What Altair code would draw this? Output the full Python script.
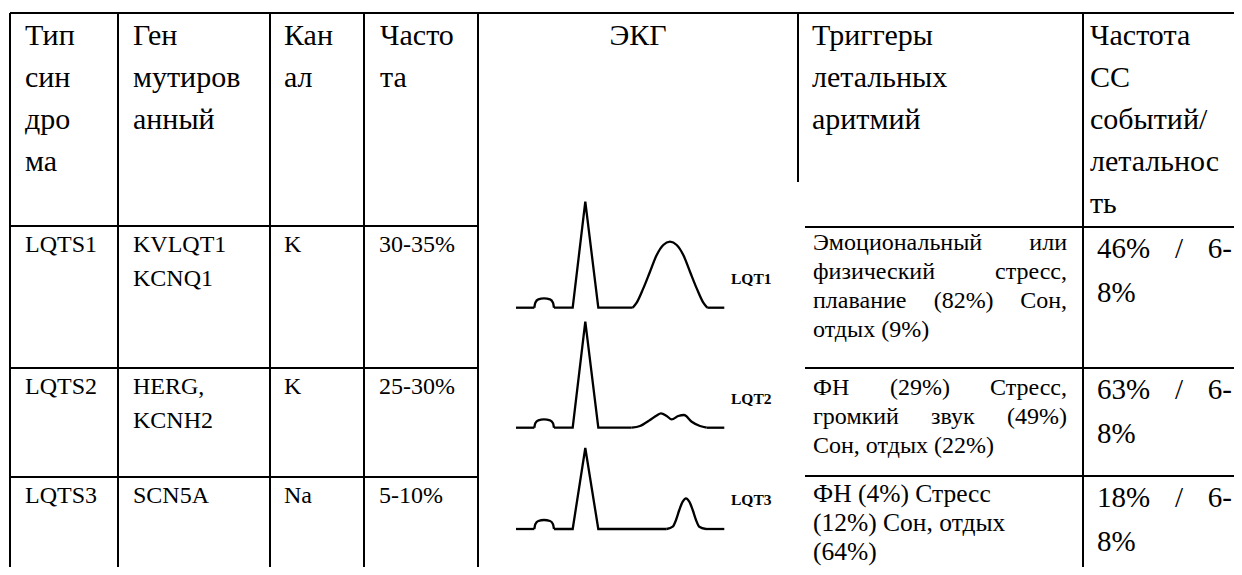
import altair as alt
import pandas as pd

# ---------------- table content ----------------
HEADERS = [
    ["Тип", "син", "дро", "ма"],
    ["Ген", "мутиров", "анный"],
    ["Кан", "ал"],
    ["Часто", "та"],
    ["ЭКГ"],
    ["Триггеры", "летальных", "аритмий"],
    ["Частота", "СС", "событий/", "летальнос", "ть"],
]
SYNDROME = ["LQTS1", "LQTS2", "LQTS3"]
GENE = [["KVLQT1", "KCNQ1"], ["HERG,", "KCNH2"], ["SCN5A"]]
CHANNEL = ["K", "K", "Na"]
FREQ = ["30-35%", "25-30%", "5-10%"]
TRIGGERS = [
    ["Эмоциональный или", "физический стресс,", "плавание (82%) Сон,", "отдых (9%)"],
    ["ФН (29%) Стресс,", "громкий звук (49%)", "Сон, отдых (22%)"],
    ["ФН (4%) Стресс", "(12%) Сон, отдых", "(64%)"],
]
TRIG_JUSTIFY = [[True, True, True, False], [True, True, False], [False, False, False]]
EVENTS = [["46% / 6-", "8%"], ["63% / 6-", "8%"], ["18% / 6-", "8%"]]
EVENTS_JUSTIFY = [True, False]
ECG_NAMES = ["LQT1", "LQT2", "LQT3"]

# ---------------- ECG traces (t along trace, amp above isoelectric line) ----------------
TRACE_END = 208.3
P_T = [18.3, 19.3, 22.3, 28.0, 34.0, 37.0, 38.0]
P_AMP = [
    [0, 5.0, 8.3, 9.3, 8.3, 5.0, 0],
    [0, 4.5, 7.4, 8.3, 7.4, 4.5, 0],
    [0, 4.8, 8.0, 9.0, 8.0, 4.8, 0],
]
QRS_T = [56.7, 69.3, 82.3]          # Q onset, R peak, S end
R_AMP = [106.0, 106.0, 81.0]
TW_T = [
    [116.7, 120.7, 127.3, 134.0, 140.7, 147.3, 154.0, 160.7, 167.3, 174.0, 180.7, 187.3, 191.3],
    [115.7, 124.0, 134.0, 140.7, 145.0, 150.7, 155.7, 162.3, 168.0, 175.7, 184.0, 190.7],
    [150.7, 156.7, 160.0, 163.3, 166.7, 170.0, 173.3, 176.7, 180.0, 183.3, 190.0],
]
TW_AMP = [
    [0, 5.0, 19.3, 36.0, 52.7, 62.7, 66.0, 62.7, 52.7, 36.0, 19.3, 5.0, 0],
    [0, 1.7, 7.7, 12.3, 14.3, 11.7, 8.3, 11.7, 12.7, 6.0, 1.7, 0],
    [0, 2.3, 9.0, 19.0, 27.3, 30.7, 27.3, 19.0, 9.0, 2.3, 0],
]

# ---------------- layout (image pixel frame) ----------------
IMG_W, IMG_H, MARGIN = 1242, 575, 8
W, H = IMG_W - 2 * MARGIN, IMG_H - 2 * MARGIN
COL_LEFT = [10, 118, 270, 364, 478, 798, 1083]
TOP, BOTTOM = 13, 600
ECG_HEAD_BOTTOM = 182
LEFT_ROWS = [226, 368, 477]
RIGHT_ROWS = [227, 368, 476]
RIGHT_X0, RIGHT_X1 = 805, 1300
HEAD_PAD = [15, 15, 14, 16, 0, 14, 7]
HEAD_BASE, HEAD_STEP, HEAD_SIZE = 45, 42, 30
BODY_SIZE, BODY_STEP = 24, 34
TRIG_L, TRIG_R, TRIG_STEP = 813, 1067, 29
TRIG_SIZE = [24, 24, 25.5]
TRIG_OFF = [23, 27, 26]
EV_L, EV_R, EV_SIZE, EV_STEP = 1097, 1232, 29, 44
ECG_X0 = 516
ECG_BASE = [307.7, 427.7, 529.0]
ECG_LABEL_X, ECG_LABEL_SIZE = 731, 15.5
SERIF = "Liberation Serif"

EM = {" ": .25, ",": .25, ".": .25, "(": .333, ")": .333, "%": .833, "/": .278, "-": .333,
      "а": .444, "е": .444, "с": .444, "т": .44, "г": .41, "л": .51, "м": .63, "ш": .75,
      "ы": .7, "ж": .7, "ф": .66, "и": .537, "й": .537, "н": .537, "п": .537, "ц": .537,
      "к": .48, "в": .47, "з": .4, "ь": .46, "Э": .667, "Ф": .8, "Н": .722, "С": .667}


def em(s):
    total = 0.0
    for c in s:
        if c in EM:
            total += EM[c]
        elif c.isdigit():
            total += .5
        elif c.isupper():
            total += .68
        else:
            total += .5
    return total


texts = []


def add(text, x, y, size, align="left", weight="normal"):
    texts.append(dict(label=text, x=x, y=y, fs=size, al=align, wt=weight))


def add_line(line, left, right, y, size, justify):
    words = line.split(" ")
    if not justify or len(words) < 2:
        add(line, left, y, size)
        return
    widths = [em(w) * size for w in words]
    gap = (right - left - sum(widths)) / (len(words) - 1)
    pos = left
    for k, (w, wd) in enumerate(zip(words, widths)):
        if k == len(words) - 1:
            add(w, right, y, size, align="right")
        else:
            add(w, pos, y, size)
        pos += wd + gap


# header
for i, lines in enumerate(HEADERS):
    for k, line in enumerate(lines):
        if i == 4:
            add(line, (COL_LEFT[4] + COL_LEFT[5]) / 2, HEAD_BASE + HEAD_STEP * k, HEAD_SIZE, align="center")
        else:
            add(line, COL_LEFT[i] + HEAD_PAD[i], HEAD_BASE + HEAD_STEP * k, HEAD_SIZE)

# left block body
for r in range(3):
    base = LEFT_ROWS[r] + 26
    add(SYNDROME[r], COL_LEFT[0] + 15, base, BODY_SIZE)
    for k, g in enumerate(GENE[r]):
        add(g, COL_LEFT[1] + 15, base + BODY_STEP * k, BODY_SIZE)
    add(CHANNEL[r], COL_LEFT[2] + 14, base, BODY_SIZE)
    add(FREQ[r], COL_LEFT[3] + 15, base, BODY_SIZE)

# triggers and events
for r in range(3):
    base = RIGHT_ROWS[r] + TRIG_OFF[r]
    for k, line in enumerate(TRIGGERS[r]):
        add_line(line, TRIG_L, TRIG_R, base + TRIG_STEP * k, TRIG_SIZE[r], TRIG_JUSTIFY[r][k])
    base = RIGHT_ROWS[r] + 31
    for k, line in enumerate(EVENTS[r]):
        add_line(line, EV_L, EV_R, base + EV_STEP * k, EV_SIZE, EVENTS_JUSTIFY[k])

# ECG labels
for r, name in enumerate(ECG_NAMES):
    add(name, ECG_LABEL_X, ECG_BASE[r] - 24, ECG_LABEL_SIZE, weight="bold")

text_df = pd.DataFrame(texts)

# table rules
rules = []
for i, cx in enumerate(COL_LEFT):
    rules.append(dict(x=cx, x2=cx, y=TOP, y2=ECG_HEAD_BOTTOM if i == 5 else BOTTOM))
rules.append(dict(x=COL_LEFT[0], x2=RIGHT_X1, y=TOP, y2=TOP))
for ry in LEFT_ROWS:
    rules.append(dict(x=COL_LEFT[0], x2=COL_LEFT[4], y=ry, y2=ry))
for ry in RIGHT_ROWS:
    rules.append(dict(x=RIGHT_X0, x2=RIGHT_X1, y=ry, y2=ry))
rule_df = pd.DataFrame(rules)

# ECG polylines
lin, smo = [], []
for r in range(3):
    b = ECG_BASE[r]
    straight = [
        [(0, 0), (P_T[0], 0)],
        [(P_T[-1], 0), (QRS_T[0], 0), (QRS_T[1], R_AMP[r]), (QRS_T[2], 0), (TW_T[r][0], 0)],
        [(TW_T[r][-1], 0), (TRACE_END, 0)],
    ]
    for s, seg in enumerate(straight):
        for i, (t, a) in enumerate(seg):
            lin.append(dict(seg=f"{r}-{s}", i=i, x=ECG_X0 + t, y=b - a))
    for i, (t, a) in enumerate(zip(P_T, P_AMP[r])):
        smo.append(dict(seg=f"{r}-p", i=i, x=ECG_X0 + t, y=b - a))
    for i, (t, a) in enumerate(zip(TW_T[r], TW_AMP[r])):
        smo.append(dict(seg=f"{r}-t", i=i, x=ECG_X0 + t, y=b - a))
lin_df, smo_df = pd.DataFrame(lin), pd.DataFrame(smo)

xs = alt.Scale(domain=[MARGIN, MARGIN + W], nice=False, zero=False)
ys = alt.Scale(domain=[MARGIN, MARGIN + H], nice=False, zero=False, reverse=True)


def X():
    return alt.X("x:Q", scale=xs, axis=None)


def Y():
    return alt.Y("y:Q", scale=ys, axis=None)


rule_layer = alt.Chart(rule_df).mark_rule(color="black", strokeWidth=2, clip=True).encode(
    x=X(), x2=alt.X2("x2:Q"), y=Y(), y2=alt.Y2("y2:Q"))

lin_layer = alt.Chart(lin_df).mark_line(color="black", strokeWidth=2.3, clip=True, strokeJoin="miter").encode(
    x=X(), y=Y(), detail="seg:N", order="i:Q")
smo_layer = alt.Chart(smo_df).mark_line(color="black", strokeWidth=2.3, clip=True, interpolate="monotone").encode(
    x=X(), y=Y(), detail="seg:N", order="i:Q")

text_layers = []
for (al, wt, fs), sub in text_df.groupby(["al", "wt", "fs"]):
    text_layers.append(
        alt.Chart(sub[["label", "x", "y"]]).mark_text(
            align=al, baseline="alphabetic", font=SERIF, fontWeight=wt, fontSize=float(fs), color="black"
        ).encode(x=X(), y=Y(), text="label:N")
    )

chart = alt.layer(rule_layer, lin_layer, smo_layer, *text_layers).properties(
    width=W, height=H, autosize=alt.AutoSizeParams(type="none"), padding=0, background="white"
).configure_view(stroke=None)

chart.save("out.html", embed_options={"renderer": "svg", "actions": False})
